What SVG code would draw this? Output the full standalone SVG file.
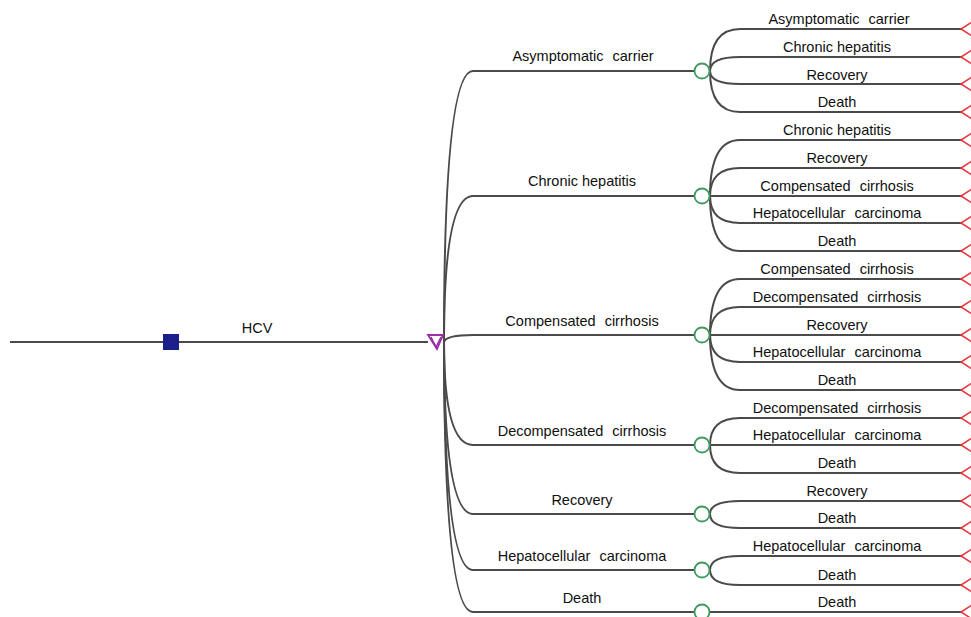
<svg xmlns="http://www.w3.org/2000/svg" width="971" height="617" viewBox="0 0 971 617">
<style>
.ln{fill:none;stroke:#4a4a4a;stroke-width:2}
.ch{fill:#fff;stroke:#3e9a5e;stroke-width:1.8}
.tm{fill:none;stroke:#e8343c;stroke-width:1.5}
text{font-family:"Liberation Sans",Arial,sans-serif;font-size:14.5px;fill:#111;text-anchor:middle}
.w{word-spacing:5px}
</style>
<rect width="971" height="617" fill="#fff"/>
<g id="connectors">
<path class="ln" d="M10,342 H428"/>
<!-- first level -->
<path class="ln" d="M444,342 Q444,71 473,71 H694"/>
<path class="ln" d="M444,342 Q444,196 473,196 H694"/>
<path class="ln" d="M444,342 Q446,335 473,335 H694"/>
<path class="ln" d="M444,342 Q444,445 473,445 H694"/>
<path class="ln" d="M444,342 Q444,514 473,514 H694"/>
<path class="ln" d="M444,342 Q444,570 473,570 H694"/>
<path class="ln" d="M444,342 Q444,612 473,612 H694"/>
<!-- group 1 -->
<path class="ln" d="M710,71 Q710,29 740,29 H961"/>
<path class="ln" d="M710,71 Q710,57 740,57 H961"/>
<path class="ln" d="M710,71 Q710,84 740,84 H961"/>
<path class="ln" d="M710,71 Q710,112 740,112 H961"/>
<!-- group 2 -->
<path class="ln" d="M710,196 Q710,140 740,140 H961"/>
<path class="ln" d="M710,196 Q710,168 740,168 H961"/>
<path class="ln" d="M710,196 H961"/>
<path class="ln" d="M710,196 Q710,223 740,223 H961"/>
<path class="ln" d="M710,196 Q710,251 740,251 H961"/>
<!-- group 3 -->
<path class="ln" d="M710,335 Q710,279 740,279 H961"/>
<path class="ln" d="M710,335 Q710,307 740,307 H961"/>
<path class="ln" d="M710,335 H961"/>
<path class="ln" d="M710,335 Q710,362 740,362 H961"/>
<path class="ln" d="M710,335 Q710,390 740,390 H961"/>
<!-- group 4 -->
<path class="ln" d="M710,445 Q710,418 740,418 H961"/>
<path class="ln" d="M710,445 H961"/>
<path class="ln" d="M710,445 Q710,473 740,473 H961"/>
<!-- group 5 -->
<path class="ln" d="M710,514 Q710,501 740,501 H961"/>
<path class="ln" d="M710,514 Q710,528 740,528 H961"/>
<!-- group 6 -->
<path class="ln" d="M710,570 Q710,556 740,556 H961"/>
<path class="ln" d="M710,570 Q710,585 740,585 H961"/>
<!-- group 7 -->
<path class="ln" d="M710,612 H961"/>
</g>
<g id="root">
<rect x="163" y="334" width="16" height="16" fill="#1c1f8a"/>
<text x="257" y="333">HCV</text>
</g>
<g id="markov">
<polygon points="428,335 443,335 437,349" fill="#fff" stroke="#9a2fa8" stroke-width="1.8"/>
<path d="M431,337 L436,347 L441,337" fill="none" stroke="#9a2fa8" stroke-width="1.5"/>
</g>
<g id="first-level-labels">
<text x="583" y="61" class="w">Asymptomatic carrier</text>
<text x="582" y="186">Chronic hepatitis</text>
<text x="582" y="326" class="w">Compensated cirrhosis</text>
<text x="582" y="436" class="w">Decompensated cirrhosis</text>
<text x="582" y="505">Recovery</text>
<text x="582" y="561" class="w">Hepatocellular carcinoma</text>
<text x="582" y="603">Death</text>
</g>
<g id="chance1"><circle class="ch" cx="702" cy="71" r="7.5"/>
<text x="839" y="24" class="w">Asymptomatic carrier</text>
<text x="837" y="52">Chronic hepatitis</text>
<text x="837" y="80">Recovery</text>
<text x="837" y="107">Death</text></g>
<g id="chance2"><circle class="ch" cx="702" cy="196" r="7.5"/>
<text x="837" y="135">Chronic hepatitis</text>
<text x="837" y="163">Recovery</text>
<text x="837" y="191" class="w">Compensated cirrhosis</text>
<text x="837" y="218" class="w">Hepatocellular carcinoma</text>
<text x="837" y="246">Death</text></g>
<g id="chance3"><circle class="ch" cx="702" cy="335" r="7.5"/>
<text x="837" y="274" class="w">Compensated cirrhosis</text>
<text x="837" y="302" class="w">Decompensated cirrhosis</text>
<text x="837" y="330">Recovery</text>
<text x="837" y="357" class="w">Hepatocellular carcinoma</text>
<text x="837" y="385">Death</text></g>
<g id="chance4"><circle class="ch" cx="702" cy="445" r="7.5"/>
<text x="837" y="413" class="w">Decompensated cirrhosis</text>
<text x="837" y="440" class="w">Hepatocellular carcinoma</text>
<text x="837" y="468">Death</text></g>
<g id="chance5"><circle class="ch" cx="702" cy="514" r="7.5"/>
<text x="837" y="496">Recovery</text>
<text x="837" y="523">Death</text></g>
<g id="chance6"><circle class="ch" cx="702" cy="570" r="7.5"/>
<text x="837" y="551" class="w">Hepatocellular carcinoma</text>
<text x="837" y="580">Death</text></g>
<g id="chance7"><circle class="ch" cx="702" cy="612" r="7.5"/>
<text x="837" y="607">Death</text></g>
<g id="terminals">
<path class="tm" d="M972,22 L961,29 L972,36 M972,50 L961,57 L972,64 M972,77 L961,84 L972,91 M972,105 L961,112 L972,119"/>
<path class="tm" d="M972,133 L961,140 L972,147 M972,161 L961,168 L972,175 M972,189 L961,196 L972,203 M972,216 L961,223 L972,230 M972,244 L961,251 L972,258"/>
<path class="tm" d="M972,272 L961,279 L972,286 M972,300 L961,307 L972,314 M972,328 L961,335 L972,342 M972,355 L961,362 L972,369 M972,383 L961,390 L972,397"/>
<path class="tm" d="M972,411 L961,418 L972,425 M972,438 L961,445 L972,452 M972,466 L961,473 L972,480"/>
<path class="tm" d="M972,494 L961,501 L972,508 M972,521 L961,528 L972,535"/>
<path class="tm" d="M972,549 L961,556 L972,563 M972,578 L961,585 L972,592"/>
<path class="tm" d="M972,605 L961,612 L972,619"/>
</g>
</svg>
